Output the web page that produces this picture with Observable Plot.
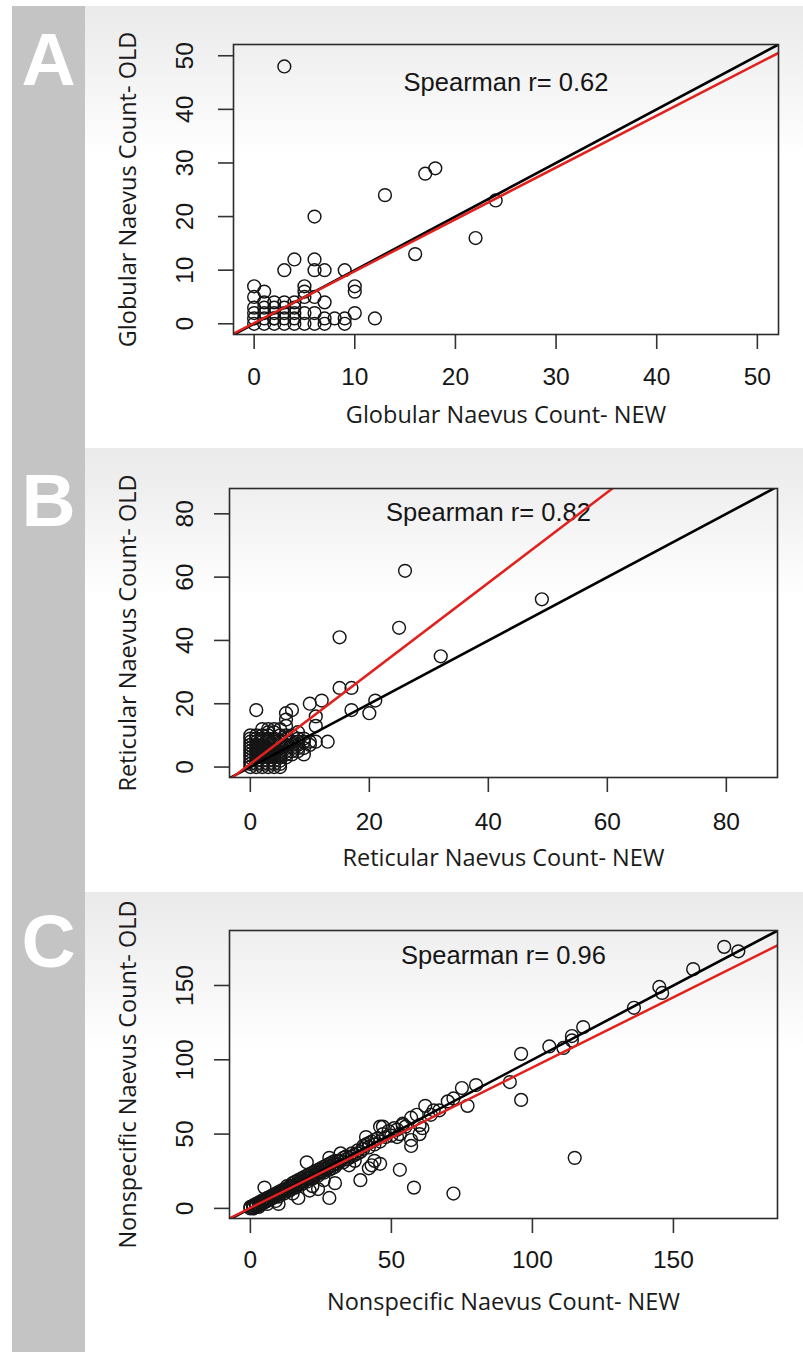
<!DOCTYPE html>
<html><head><meta charset="utf-8">
<script src="https://cdn.jsdelivr.net/npm/d3@7"></script>
<script src="https://cdn.jsdelivr.net/npm/@observablehq/plot@0.6"></script>
<style>
body{margin:0;background:#fff;}
#page{position:relative;width:803px;height:1352px;overflow:hidden;background:#fff;}
.strip{position:absolute;left:12px;top:6px;width:73px;height:1346px;background:#c4c4c4;}
.panel{position:absolute;left:85px;width:718px;background:linear-gradient(to bottom,#eaeaea 0%,#f2f2f2 14%,#ffffff 34%);}
.letter{position:absolute;left:12px;width:73px;text-align:center;color:#fff;font:bold 75px/75px "Liberation Sans",Arial,sans-serif;}
.chart{position:absolute;left:0;}
</style></head>
<body>
<div id="page">
  <div class="strip"></div>
  <div class="panel" style="top:6px;height:441px"></div>
  <div class="panel" style="top:448px;height:442px"></div>
  <div class="panel" style="top:892px;height:460px"></div>
  <div id="cA" class="chart" style="top:6px"></div>
  <div id="cB" class="chart" style="top:448px"></div>
  <div id="cC" class="chart" style="top:892px"></div>
  <div class="letter" style="top:22px">A</div>
  <div class="letter" style="top:463px">B</div>
  <div class="letter" style="top:904px">C</div>
</div>
<script>
// ---------- Panel A: Globular ----------
const newA = [3,13,6,4,3,6,6,7,9,0,1,0,5,5,10,10,2,4,5,7,6,10,12,9,9,7,7,5,4,3,17,18,24,22,16,0,0,0,1,1,1,2,2,2,3,3,3,4,4,0,1,2,6,5,4,8,6,1,3,2];
const oldA = [48,24,20,12,10,12,10,10,10,7,6,5,7,6,7,6,4,4,5,4,5,2,1,1,0,1,0,2,3,3,28,29,23,16,13,0,1,2,0,1,2,0,1,2,0,1,2,0,1,3,3,3,0,0,2,1,2,4,4,1];
// ---------- Panel B: Reticular ----------
const newB = [26,25,32,49,15,1,15,17,17,20,21,10,12,7,6,6,6,11,11,13,9,0,1,3,4,5,10,11,8,8,6,9,7,
  0,0,0,0,0,0,0,1,1,1,1,1,1,1,1,2,2,2,2,2,2,2,2,3,3,3,3,3,3,3,3,4,4,4,4,4,4,4,5,5,5,5,5,6,6,6,7,7,8,8,9,10,2,5,7,4,
  0,0,1,2,2,2,3,3,3,4,4,4,5,5,5,5,6,6,6,6,7,7,8,8,9,1,0,3];
const oldB = [62,44,35,53,41,18,25,25,18,17,21,20,21,18,17,15,13,16,13,8,4,10,10,12,12,0,8,8,8,9,5,6,6,
  0,1,2,3,4,5,6,0,1,2,3,4,5,6,8,0,1,2,3,4,5,7,10,0,1,2,3,5,6,8,9,1,2,3,4,6,7,9,2,3,5,8,10,3,7,9,4,10,5,11,9,7,12,12,8,11,
  7,8,7,6,8,9,4,7,10,0,5,8,1,4,6,7,4,6,8,10,5,7,6,7,8,9,9,11];
// ---------- Panel C: Nonspecific ----------
const newC = [168,173,157,145,146,136,118,114,114,106,111,96,92,96,115,80,75,77,72,70,62,67,64,72,58,61,60,57,57,53,57,59,65,52,47,46,51,54,60,
  28,17,21,24,30,39,20,5,10,42,43,44,41,46,32,37,28,
  0,0,1,1,2,2,3,3,4,4,5,5,6,6,7,7,8,8,9,9,10,10,11,11,12,12,13,13,14,14,15,15,16,16,17,17,18,18,19,19,20,20,21,21,22,22,23,23,24,24,25,25,26,26,27,27,28,28,29,29,30,30,31,32,33,34,35,36,37,38,39,40,41,42,43,44,45,46,47,48,49,50,52,55,53,54,
  1,2,3,4,5,6,7,8,9,10,11,12,13,14,15,16,17,18,19,20,21,22,23,24,25,26,27,28,29,30,31,33,34,36,38,40,42,44,3,6,9,15,22,26,35];
const oldC = [176,173,161,149,145,135,122,116,113,109,108,104,85,73,34,83,81,69,74,72,69,66,63,10,14,54,56,46,42,26,61,63,66,48,55,30,54,56,50,
  7,7,12,13,17,19,31,14,3,27,29,32,48,55,37,32,34,
  0,1,1,2,2,3,3,2,4,5,5,4,6,7,7,6,8,9,9,10,10,8,11,12,12,10,13,15,14,12,15,17,16,14,17,19,18,16,19,21,20,18,21,23,22,20,23,25,24,22,25,27,26,24,27,29,28,26,29,31,30,28,32,32,31,35,34,37,36,39,38,40,43,41,45,43,47,45,50,48,52,49,53,55,50,57,
  0,1,4,3,6,5,8,7,8,11,10,13,12,15,14,18,16,20,18,22,20,24,22,26,24,28,26,30,27,32,30,34,33,35,37,42,44,46,1,3,5,10,15,19,29];

const ticksA = [0,10,20,30,40,50];
const ticksB = [0,20,40,60,80];
const ticksC = [0,50,100,150];
const spearman = ["Spearman r= 0.62","Spearman r= 0.82","Spearman r= 0.96"];
const xTitles = ["Globular Naevus Count- NEW","Reticular Naevus Count- NEW","Nonspecific Naevus Count- NEW"];
const yTitles = ["Globular Naevus Count- OLD","Reticular Naevus Count- OLD","Nonspecific Naevus Count- OLD"];
// regression lines (intercept, slope)
const fitIntercept = [0.14, 1.0, 0.3];
const fitSlope = [0.967, 1.43, 0.945];

function makePanel(cfg) {
  const pts = cfg.xs.map((x, i) => ({x, y: cfg.ys[i]}));
  const [x0, x1] = cfg.xDomain;
  const idLine = [{x: x0, y: x0}, {x: x1, y: x1}];
  const fitLine = [x0, x1].map(x => ({x, y: cfg.b0 + cfg.b1 * x}));
  return Plot.plot({
    width: 803, height: cfg.height,
    marginTop: cfg.mt, marginBottom: cfg.mb, marginLeft: cfg.ml, marginRight: cfg.mr,
    style: {background: "transparent", overflow: "visible"},
    x: {domain: cfg.xDomain},
    y: {domain: cfg.yDomain},
    marks: [
      Plot.axisX(cfg.xTicks, {tickSize: 15, tickPadding: cfg.xPad, lineAnchor: "middle", fontSize: 24.5,
        fontFamily: "Liberation Sans, Arial, sans-serif", stroke: "#333", strokeWidth: 1.6, fill: "#161616", label: null}),
      Plot.axisY(cfg.yTicks, {tickSize: 15, tickPadding: cfg.yPad, tickRotate: -90, textAnchor: "middle", lineAnchor: "middle",
        fontSize: 24.5, fontFamily: "Liberation Sans, Arial, sans-serif", stroke: "#333", strokeWidth: 1.6, fill: "#161616", label: null}),
      Plot.dot(pts, {x: "x", y: "y", r: 6.4, stroke: "#151515", strokeWidth: 1.45, fill: "none"}),
      Plot.text([cfg.rText], {frameAnchor: "top", dx: cfg.rDx, dy: cfg.rDy, lineAnchor: "middle", fontSize: 25.5,
        fontFamily: "Liberation Sans, Arial, sans-serif", fill: "#161616"}),
      Plot.line(idLine, {x: "x", y: "y", stroke: "#000", strokeWidth: 2.6, clip: true}),
      Plot.line(fitLine, {x: "x", y: "y", stroke: "#e0211d", strokeWidth: 2.5, clip: true}),
      Plot.frame({stroke: "#2b2b2b", strokeWidth: 1.6}),
      Plot.text([cfg.yTitle], {frameAnchor: "left", dx: -cfg.yTitleOff, rotate: -90, textAnchor: "middle", lineAnchor: "middle",
        fontSize: 23.5, fontFamily: "Open Sans, Noto Sans, sans-serif", fill: "#1a1a1a"}),
      Plot.text([cfg.xTitle], {frameAnchor: "bottom", dy: cfg.xTitleOff, lineAnchor: "middle",
        fontSize: 23.5, fontFamily: "Open Sans, Noto Sans, sans-serif", fill: "#1a1a1a"})
    ]
  });
}

document.getElementById("cA").append(makePanel({
  xs: newA, ys: oldA, xDomain: [-2.05, 52.1], yDomain: [-2.0, 52.1], xTicks: ticksA, yTicks: ticksA,
  b0: fitIntercept[0], b1: fitSlope[0], height: 441, mt: 38, mb: 113, ml: 233, mr: 25,
  xPad: 28, yPad: 33, rText: spearman[0], rDx: 0, rDy: 38,
  yTitle: yTitles[0], xTitle: xTitles[0], yTitleOff: 105, xTitleOff: 81
}));
document.getElementById("cB").append(makePanel({
  xs: newB, ys: oldB, xDomain: [-3.5, 88.6], yDomain: [-3.3, 88.0], xTicks: ticksB, yTicks: ticksB,
  b0: fitIntercept[1], b1: fitSlope[1], height: 442, mt: 40, mb: 113, ml: 229, mr: 26,
  xPad: 30, yPad: 29, rText: spearman[1], rDx: -15, rDy: 24,
  yTitle: yTitles[1], xTitle: xTitles[1], yTitleOff: 101, xTitleOff: 81
}));
document.getElementById("cC").append(makePanel({
  xs: newC, ys: oldC, xDomain: [-7.4, 186.9], yDomain: [-6.8, 187.0], xTicks: ticksC, yTicks: ticksC,
  b0: fitIntercept[2], b1: fitSlope[2], height: 460, mt: 38, mb: 134, ml: 229, mr: 26,
  xPad: 27, yPad: 29, rText: spearman[2], rDx: 0, rDy: 25,
  yTitle: yTitles[2], xTitle: xTitles[2], yTitleOff: 101, xTitleOff: 84
}));
</script>
</body></html>
